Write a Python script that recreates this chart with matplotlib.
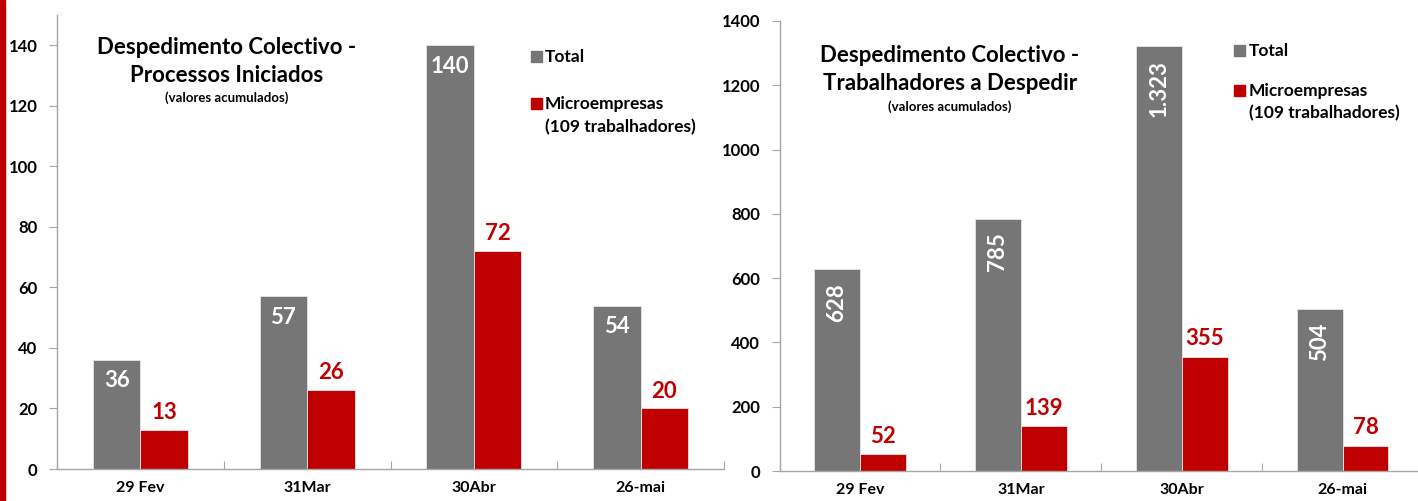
import matplotlib
matplotlib.use("Agg")
import matplotlib.pyplot as plt
import numpy as np

plt.rcParams['font.family'] = ['Lato', 'DejaVu Sans']

categories = ["29 Fev", "31Mar", "30Abr", "26-mai"]
proc_total = [36, 57, 140, 54]
proc_micro = [13, 26, 72, 20]
trab_total = [628, 785, 1323, 504]
trab_micro = [52, 139, 355, 78]
trab_total_labels = ["628", "785", "1.323", "504"]

GRAY = "#767676"
RED = "#C00000"
AXC = "#A6A6A6"

W, H = 1418, 501
fig = plt.figure(figsize=(W / 100, H / 100), dpi=100)
fig.patch.set_facecolor("white")

# red stripe at left edge
fig.add_artist(plt.Rectangle((0, 0), 5 / W, 1, transform=fig.transFigure,
                             color=RED, zorder=0))


def px(x0, y0, x1, y1):
    return [x0 / W, (H - y1) / H, (x1 - x0) / W, (y1 - y0) / H]


def style_axes(ax, ymax, step, ytop):
    ax.set_ylim(0, ymax)
    ax.set_xlim(0, len(categories))
    for s in ["top", "right"]:
        ax.spines[s].set_visible(False)
    for s in ["left", "bottom"]:
        ax.spines[s].set_color(AXC)
        ax.spines[s].set_linewidth(1.0)
    ax.set_yticks(np.arange(0, ytop + 1, step))
    ax.set_xticks(np.arange(0, len(categories) + 1))
    ax.set_xticklabels([])
    ax.set_xticks(np.arange(len(categories)) + 0.5, minor=True)
    ax.set_xticklabels(categories, minor=True, fontsize=11.5, fontweight="bold")
    ax.tick_params(axis="x", which="minor", length=0, pad=9)
    ax.tick_params(axis="x", which="major", length=6, color=AXC, direction="in")
    ax.tick_params(axis="y", length=6, color=AXC, labelsize=12, pad=8)
    for lab in ax.get_yticklabels():
        lab.set_fontweight("bold")


bw = 0.285
x = np.arange(len(categories)) + 0.5

# ---------- left chart ----------
ax1 = fig.add_axes(px(57, 15, 724, 469))
ax1.bar(x - bw / 2, proc_total, bw, color=GRAY, edgecolor="#E6E6E6", linewidth=0.6)
ax1.bar(x + bw / 2, proc_micro, bw, color=RED, edgecolor="#E6E6E6", linewidth=0.6)
style_axes(ax1, 150, 20, 140)
for xi, v in zip(x, proc_total):
    ax1.annotate(str(v), (xi - bw / 2, v), xytext=(0, -15), textcoords="offset points",
                 ha="center", va="center", color="white", fontsize=16, fontweight="bold")
for xi, v in zip(x, proc_micro):
    ax1.annotate(str(v), (xi + bw / 2, v), xytext=(0, 12.5), textcoords="offset points",
                 ha="center", va="center", color=RED, fontsize=16, fontweight="bold")

fig.text(227 / W, 1 - 48 / H, "Despedimento Colectivo -", ha="center", va="center",
         fontsize=16, fontweight="bold")
fig.text(227 / W, 1 - 75 / H, "Processos Iniciados", ha="center", va="center",
         fontsize=16, fontweight="bold")
fig.text(227 / W, 1 - 98 / H, "(valores acumulados)", ha="center", va="center",
         fontsize=9.5, fontweight="bold")

# legend left
fig.add_artist(plt.Rectangle((531 / W, 1 - 62 / H), 11 / W, 11 / H,
                             transform=fig.transFigure, color=GRAY))
fig.text(545 / W, 1 - 57 / H, "Total", ha="left", va="center", fontsize=12.5,
         fontweight="bold")
fig.add_artist(plt.Rectangle((531 / W, 1 - 109 / H), 11 / W, 11 / H,
                             transform=fig.transFigure, color=RED))
fig.text(545 / W, 1 - 104 / H, "Microempresas", ha="left", va="center", fontsize=12.5,
         fontweight="bold")
fig.text(545 / W, 1 - 127 / H, "(109 trabalhadores)", ha="left", va="center",
         fontsize=12.5, fontweight="bold")

# ---------- right chart ----------
ax2 = fig.add_axes(px(779.5, 21, 1423, 471))
ax2.bar(x - bw / 2, trab_total, bw, color=GRAY, edgecolor="#E6E6E6", linewidth=0.6)
ax2.bar(x + bw / 2, trab_micro, bw, color=RED, edgecolor="#E6E6E6", linewidth=0.6)
style_axes(ax2, 1400, 200, 1400)
for xi, v, t in zip(x, trab_total, trab_total_labels):
    ax2.annotate(t, (xi - bw / 2, v), xytext=(0, -10), textcoords="offset points",
                 ha="center", va="top", rotation=90, color="white", fontsize=16,
                 fontweight="bold")
for xi, v in zip(x, trab_micro):
    ax2.annotate(str(v), (xi + bw / 2, v), xytext=(0, 13), textcoords="offset points",
                 ha="center", va="center", color=RED, fontsize=16, fontweight="bold")

fig.text(950 / W, 1 - 55 / H, "Despedimento Colectivo -", ha="center", va="center",
         fontsize=16, fontweight="bold")
fig.text(950 / W, 1 - 84 / H, "Trabalhadores a Despedir", ha="center", va="center",
         fontsize=16, fontweight="bold")
fig.text(950 / W, 1 - 107 / H, "(valores acumulados)", ha="center", va="center",
         fontsize=9.5, fontweight="bold")

fig.add_artist(plt.Rectangle((1234 / W, 1 - 56 / H), 11 / W, 11 / H,
                             transform=fig.transFigure, color=GRAY))
fig.text(1249 / W, 1 - 51 / H, "Total", ha="left", va="center", fontsize=12.5,
         fontweight="bold")
fig.add_artist(plt.Rectangle((1234 / W, 1 - 96 / H), 11 / W, 11 / H,
                             transform=fig.transFigure, color=RED))
fig.text(1249 / W, 1 - 91 / H, "Microempresas", ha="left", va="center", fontsize=12.5,
         fontweight="bold")
fig.text(1249 / W, 1 - 113 / H, "(109 trabalhadores)", ha="left", va="center",
         fontsize=12.5, fontweight="bold")

fig.savefig("out.png", dpi=100)
